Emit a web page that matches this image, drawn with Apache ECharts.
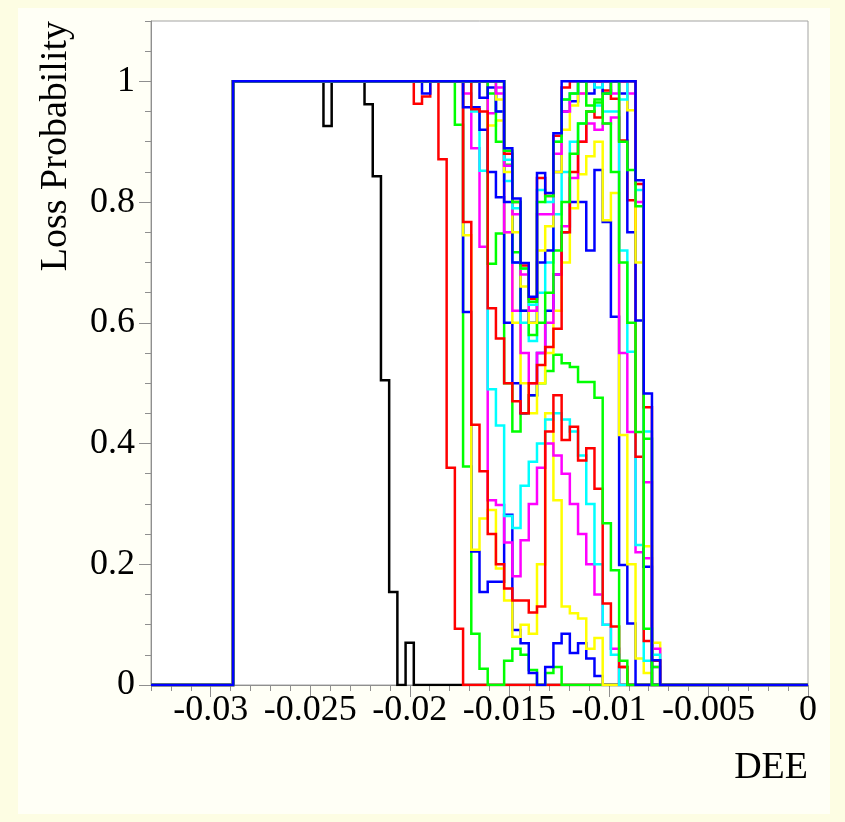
<!DOCTYPE html>
<html>
<head>
<meta charset="utf-8">
<title>Loss Probability vs DEE</title>
<script src="https://cdn.jsdelivr.net/npm/echarts@6.0.0/dist/echarts.min.js"></script>
<style>
  html, body { margin: 0; padding: 0; background: #fdfde3; }
  #chart { width: 845px; height: 822px; }
</style>
</head>
<body>
<div id="chart"></div>
<script>
// Histogram binning along DEE: 80 equal bins from -0.033 to 0
const X_MIN = -0.033;
const X_MAX = 0;
const N_BINS = 80;
const FULL_FROM = 10;   // bins 10..29 are full (1) unless a lead array is given
const FIRST_BIN = 30;   // the arrays below list bins 30..63; later bins are empty

// Loss probability per bin (bins 30..63)
const black    = [0,.07,0,0,0,0,0,0,0,0,0,0,0,0,0,0,0,0,0,0,0,0,0,0,0,0,0,0,0,0,0,0,0,0];
const blackLead = [1,1,1,1,1,1,1,1,1,1,1,.926,1,1,1,1,.962,.843,.505,.154]; // bins 10..29
const red1     = [1,1,.963,.975,1,.871,.36,.093,0,0,0,0,0,0,0,0,0,0,0,0,0,0,0,0,0,0,0,.03,0,0,0,0,0,0];
const green1   = [1,1,1,1,1,1,1,.928,.362,.085,.027,0,0,.04,.06,.05,.025,0,.02,.03,0,0,0,0,0,0,0,0,0,0,0,0,0,0];
const blue1    = [1,1,1,.98,1,1,1,1,.618,.221,.154,.171,.171,.282,.091,.069,.02,0,.03,.069,.085,.053,.069,.044,.015,0,0,0,0,0,0,0,0,0];
const yellow1  = [1,1,1,1,1,1,1,1,.745,.224,.276,.29,.193,.14,.08,.1,.085,.2,.45,.306,.13,.119,.11,.06,.078,0,0,0,0,0,0,0,0,0];
const magenta1 = [1,1,1,1,1,1,1,1,.98,.889,.726,.306,.298,.236,.18,.24,.3,.36,.4,.38,.35,.3,.25,.2,.15,.1,.06,0,0,0,0,0,0,0];
const cyan1    = [1,1,1,1,1,1,1,1,1,.95,.852,.49,.43,.28,.26,.33,.37,.4,.44,.45,.44,.42,.38,.3,.2,.1,.05,0,0,0,0,0,0,0];
const red2     = [1,1,1,1,1,1,1,1,.767,.431,.354,.25,.2,.16,.14,.14,.12,.13,.42,.48,.406,.428,.372,.392,.325,.135,.097,.03,0,0,0,0,0,0];
const green2   = [1,1,1,1,1,1,1,1,1,1,1,.698,.748,.5,.42,.45,.48,.5,.52,.547,.533,.527,.502,.502,.476,.268,.19,.04,0,0,0,0,0,0];
const blue2    = [1,1,1,1,1,1,1,1,.957,.957,.92,.85,.808,.6,.5,.45,.48,.55,.62,.68,.75,.8,.8,.72,.853,.767,.61,.199,.102,0,0,0,0,0];
const yellow2  = [1,1,1,1,1,1,1,1,1,1,1,.927,.935,.75,.6,.5,.45,.5,.55,.62,.7,.79,.846,.876,.9,.77,.815,.414,.2,.044,.02,0,0,0];
const magenta2 = [1,1,1,1,1,1,1,1,1,1,1,.947,.99,.75,.62,.55,.5,.55,.6,.68,.76,.84,.9,.93,.92,.93,.94,.55,.419,.22,.21,.03,0,0];
const cyan2    = [1,1,1,1,1,1,1,1,1,1,1,1,.95,.835,.7,.6,.57,.65,.7,.78,.85,.9,.93,.95,.96,.95,.95,.72,.552,.232,.04,0,0,0];
const red3     = [1,1,1,1,1,1,1,1,1,.954,.95,.624,.574,.5,.47,.45,.5,.53,.56,.59,.75,.85,.9,.95,.94,.985,.971,.902,.803,.378,.073,0,0,0];
const green3   = [1,1,1,1,1,1,1,1,1,1,1,.98,.9,.862,.717,.62,.58,.6,.65,.72,.8,.88,.93,.95,.97,.93,.85,.7,.6,.419,.408,.03,0,0];
const blue3    = [1,1,1,1,1,1,1,1,1,1,.973,.99,.95,.8,.7,.62,.6,.7,.72,.85,.95,.967,1,.98,1,.98,1,.98,.75,.604,.196,0,0,0];
const yellow3  = [1,1,1,1,1,1,1,1,1,1,1,1,.97,.85,.75,.66,.6,.72,.76,.85,.92,.96,.98,1,1,1,1,1,.952,.7,.23,.07,0,0];
const magenta3 = [1,1,1,1,1,1,1,1,1,1,1,1,.98,.86,.78,.68,.62,.78,.78,.88,.95,.98,.98,1,1,1,.98,1,.98,.8,.336,.06,0,0];
const cyan3    = [1,1,1,1,1,1,1,1,1,1,1,1,1,.87,.79,.69,.63,.82,.8,.9,.97,.98,1,1,.99,1,1,.97,1,.82,.42,.05,0,0];
const red4     = [1,1,1,1,1,1,1,1,1,1,1,1,1,.88,.8,.695,.64,.84,.81,.91,.99,1,1,1,1,1,1,1,1,.83,.46,.04,0,0];
const green4   = [1,1,1,1,1,1,1,1,1,1,1,1,1,.885,.8,.69,.635,.8,.81,.9,.97,.98,1,.96,.965,.98,1,.9,.853,.793,.093,0,0,0];
const blue4    = [1,1,1,1,1,1,1,1,1,1,1,1,1,.889,.806,.699,.643,.848,.815,.914,1,1,1,1,1,1,1,1,1,.836,.483,.041,0,0];

// Axis ticks and labels
const xMajorTicks = [-0.03, -0.025, -0.02, -0.015, -0.01, -0.005, 0];
const xMinorTicks = [-0.033,-0.032,-0.031,-0.029,-0.028,-0.027,-0.026,-0.024,-0.023,-0.022,-0.021,
                     -0.019,-0.018,-0.017,-0.016,-0.014,-0.013,-0.012,-0.011,-0.009,-0.008,-0.007,
                     -0.006,-0.004,-0.003,-0.002,-0.001];
const yMajorTicks = [0, 0.2, 0.4, 0.6, 0.8, 1];
const yMinorTicks = [0.05,0.1,0.15,0.25,0.3,0.35,0.45,0.5,0.55,0.65,0.7,0.75,0.85,0.9,0.95,1.05,1.1];

// Drawing order (last on top) and line colours
const histograms = [
  { name: 'h0',  bins: black,    lead: blackLead },
  { name: 'h1',  bins: red1 },     { name: 'h2',  bins: green1 },   { name: 'h3',  bins: blue1 },
  { name: 'h4',  bins: yellow1 },  { name: 'h5',  bins: magenta1 }, { name: 'h6',  bins: cyan1 },
  { name: 'h7',  bins: red2 },     { name: 'h8',  bins: green2 },   { name: 'h9',  bins: blue2 },
  { name: 'h10', bins: yellow2 },  { name: 'h11', bins: magenta2 }, { name: 'h12', bins: cyan2 },
  { name: 'h13', bins: red3 },     { name: 'h14', bins: green3 },   { name: 'h15', bins: blue3 },
  { name: 'h16', bins: yellow3 },  { name: 'h17', bins: magenta3 }, { name: 'h18', bins: cyan3 },
  { name: 'h19', bins: red4 },     { name: 'h20', bins: green4 },   { name: 'h21', bins: blue4 }
];
const lineColors = ['#000000',
  '#ff0000', '#00ff00', '#0000ff', '#ffff00', '#ff00ff', '#00ffff',
  '#ff0000', '#00ff00', '#0000ff', '#ffff00', '#ff00ff', '#00ffff',
  '#ff0000', '#00ff00', '#0000ff', '#ffff00', '#ff00ff', '#00ffff',
  '#ff0000', '#00ff00', '#0000ff'];

function binEdge(i) { return X_MIN + (X_MAX - X_MIN) * i / N_BINS; }

function expandBins(tail, lead) {
  const v = new Array(N_BINS).fill(0);
  for (let b = FULL_FROM; b < FIRST_BIN; b++) v[b] = lead ? lead[b - FULL_FROM] : 1;
  tail.forEach((y, k) => { v[FIRST_BIN + k] = y; });
  return v;
}

// Histogram outline: horizontal across each bin, vertical at each change
function outline(v) {
  const pts = [[binEdge(0), v[0]]];
  for (let i = 1; i < N_BINS; i++) {
    if (v[i] !== v[i - 1]) {
      pts.push([binEdge(i), v[i - 1]], [binEdge(i), v[i]]);
    }
  }
  pts.push([binEdge(N_BINS), v[N_BINS - 1]]);
  return pts;
}

const AXIS_GREY = '#8f8f8f';
const FONT = 'Liberation Serif';
const FRAME = { left: 151, top: 21, width: 657, height: 664 };

const series = histograms.map((h, k) => ({
  name: h.name,
  type: 'line',
  xAxisIndex: 0,
  yAxisIndex: 0,
  data: outline(expandBins(h.bins, h.lead)),
  showSymbol: false,
  symbol: 'none',
  silent: true,
  z: 3,
  lineStyle: { color: lineColors[k], width: 2.5, join: 'miter', cap: 'butt' }
}));

const tickLine = { color: AXIS_GREY, width: 1 };

const chart = echarts.init(document.getElementById('chart'), null, { renderer: 'canvas' });
chart.setOption({
  backgroundColor: '#fdfde3',
  animation: false,
  graphic: [
    { type: 'rect', z: -10, silent: true,
      shape: { x: 18, y: 8, width: 812, height: 806 },
      style: { fill: '#fffff6' } },
    { type: 'text', silent: true,
      x: 808, y: 768,
      style: { text: 'DEE', font: '38px "Liberation Serif"', fill: '#000',
               textAlign: 'right', textVerticalAlign: 'middle' } },
    { type: 'text', silent: true,
      x: 56, y: 21, rotation: Math.PI / 2,
      style: { text: 'Loss Probability', font: '38px "Liberation Serif"', fill: '#000',
               textAlign: 'right', textVerticalAlign: 'middle' } }
  ],
  grid: [
    // plotting frame with major ticks and labels
    Object.assign({ show: true, backgroundColor: '#ffffff', borderColor: '#a3a3a3', borderWidth: 1 }, FRAME),
    // same frame again, carrying only the minor ticks
    Object.assign({ show: false }, FRAME)
  ],
  xAxis: [
    {
      gridIndex: 0, type: 'value', min: X_MIN, max: X_MAX, position: 'bottom',
      axisLine: { show: true, onZero: false, lineStyle: tickLine },
      axisTick: { show: true, inside: false, length: 12, customValues: xMajorTicks, lineStyle: tickLine },
      axisLabel: { show: true, customValues: xMajorTicks, margin: 8,
                   color: '#000', fontFamily: FONT, fontSize: 36 },
      splitLine: { show: false }
    },
    {
      gridIndex: 1, type: 'value', min: X_MIN, max: X_MAX, position: 'bottom',
      axisLine: { show: false, onZero: false },
      axisTick: { show: true, inside: false, length: 6, customValues: xMinorTicks, lineStyle: tickLine },
      axisLabel: { show: false },
      splitLine: { show: false }
    }
  ],
  yAxis: [
    {
      gridIndex: 0, type: 'value', min: 0, max: 1.1, position: 'left',
      axisLine: { show: true, onZero: false, lineStyle: tickLine },
      axisTick: { show: true, inside: false, length: 12, customValues: yMajorTicks, lineStyle: tickLine },
      axisLabel: { show: true, customValues: yMajorTicks, margin: 16,
                   color: '#000', fontFamily: FONT, fontSize: 36 },
      splitLine: { show: false }
    },
    {
      gridIndex: 1, type: 'value', min: 0, max: 1.1, position: 'left',
      axisLine: { show: false, onZero: false },
      axisTick: { show: true, inside: false, length: 6, customValues: yMinorTicks, lineStyle: tickLine },
      axisLabel: { show: false },
      splitLine: { show: false }
    }
  ],
  series: series
});
</script>
</body>
</html>
